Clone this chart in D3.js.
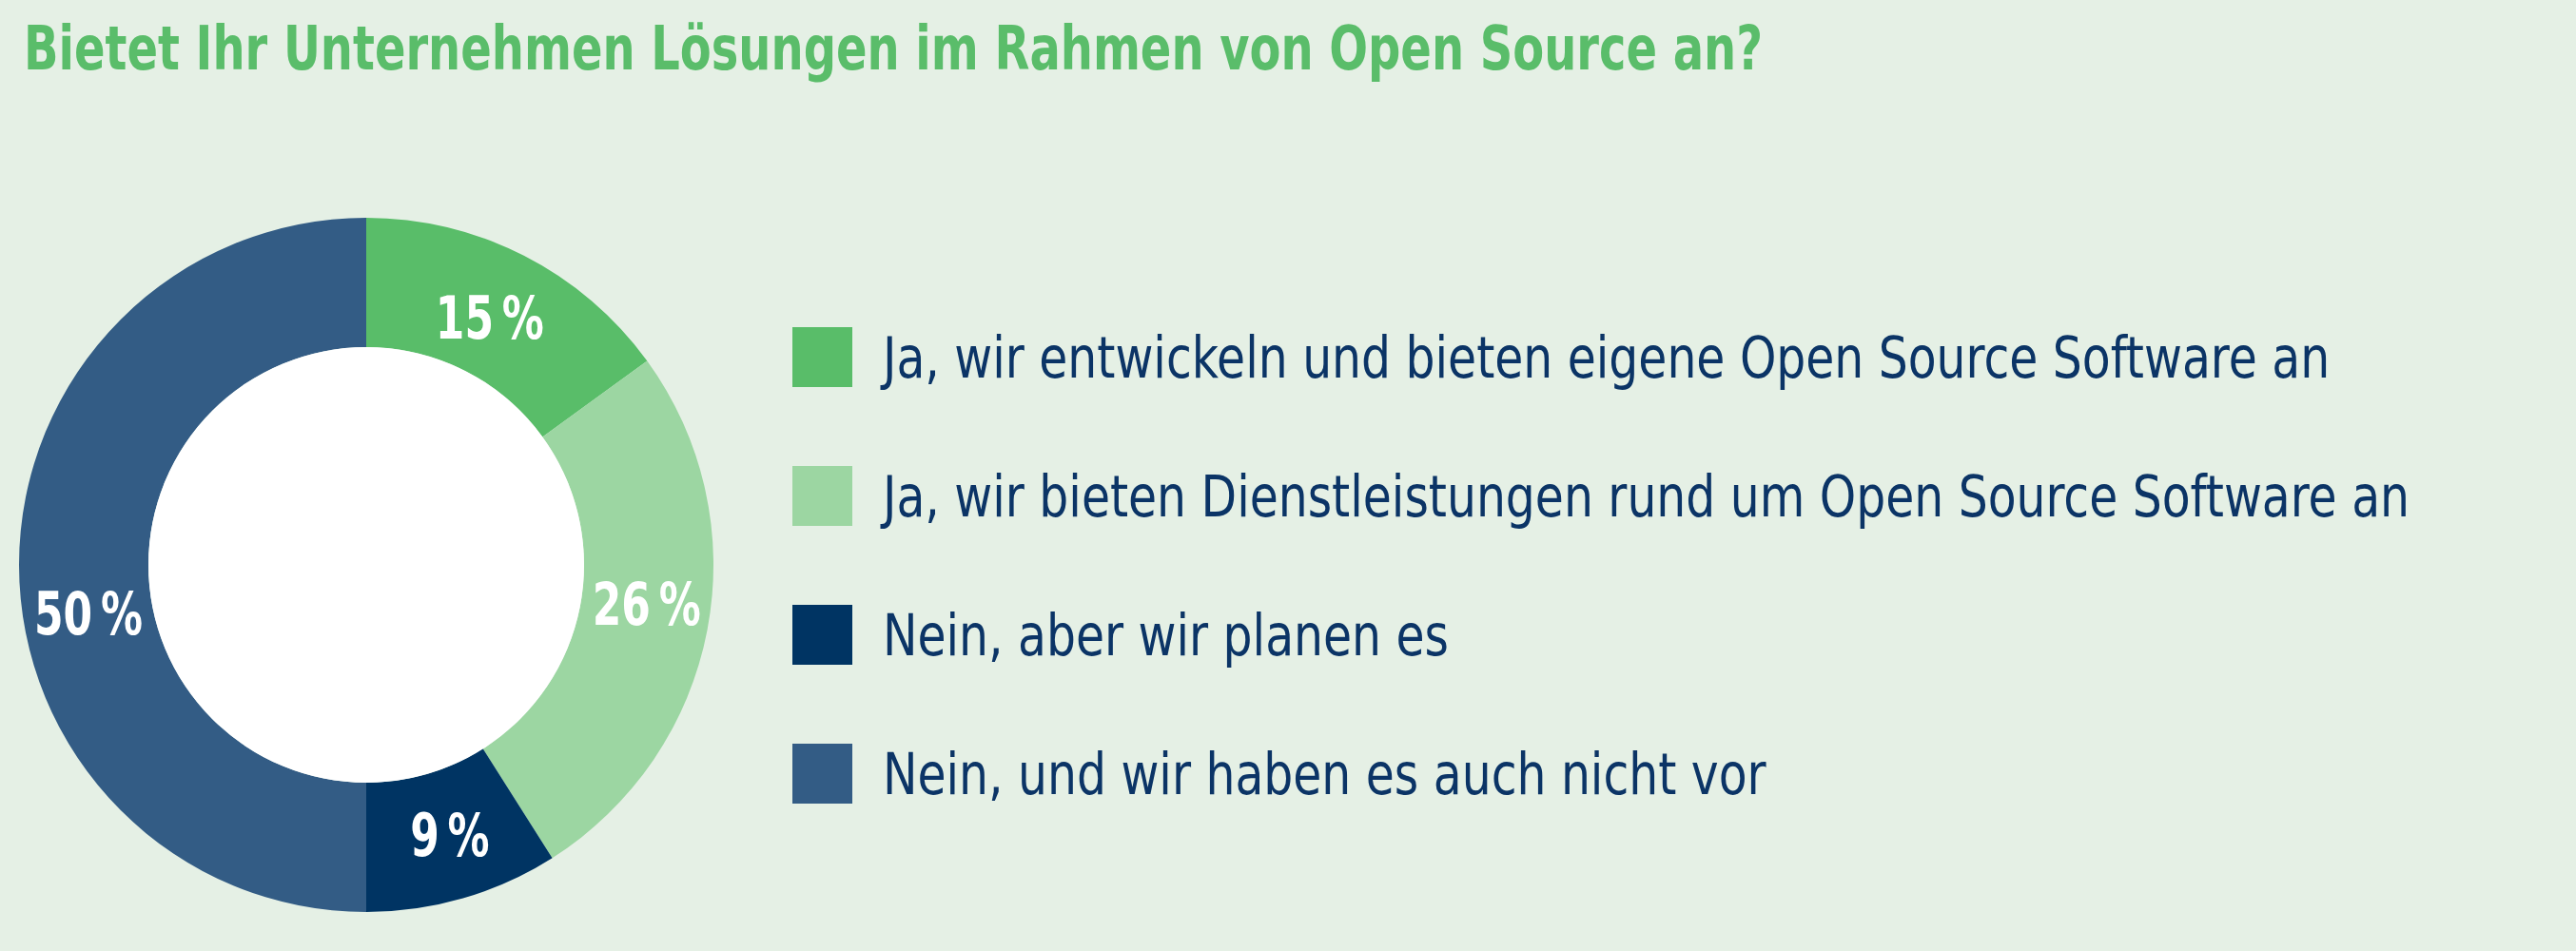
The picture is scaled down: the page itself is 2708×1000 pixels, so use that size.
<!DOCTYPE html>
<html>
<head>
<meta charset="utf-8">
<script src="https://cdn.jsdelivr.net/npm/d3@7"></script>
<style>
  html, body { margin: 0; padding: 0; background: #E5F0E5; }
  svg { display: block; }
</style>
</head>
<body>
<svg id="chart" width="2708" height="1000"></svg>
<script>
// ---- data ----
const title = "Bietet Ihr Unternehmen Lösungen im Rahmen von Open Source an?";
const categories = [
  "Ja, wir entwickeln und bieten eigene Open Source Software an",
  "Ja, wir bieten Dienstleistungen rund um Open Source Software an",
  "Nein, aber wir planen es",
  "Nein, und wir haben es auch nicht vor"
];
const values = [15, 26, 9, 50];
const valueLabels = ["15\u2009%", "26\u2009%", "9\u2009%", "50\u2009%"];
const colors = ["#59BD69", "#9CD6A2", "#003463", "#335C85"];

// ---- layout ----
const W = 2708, H = 1000;
const bg = "#E5F0E5";
const textColor = "#0B3466";
const fontStack = "'Liberation Sans Narrow', 'DejaVu Sans Condensed', 'Roboto', sans-serif";

const svg = d3.select("#chart");
svg.append("rect").attr("width", W).attr("height", H).attr("fill", bg);

// title
const titleEl = svg.append("text")
  .attr("x", 25).attr("y", 73)
  .attr("font-family", fontStack)
  .attr("font-weight", "bold")
  .attr("font-size", 64)
  .attr("fill", "#5ABD6A")
  .text(title);
titleEl.attr("textLength", 1828).attr("lengthAdjust", "spacingAndGlyphs");

// donut
const cx = 385, cy = 594, rOuter = 365, rInner = 229;
const pie = d3.pie().sort(null).value(d => d)(values);
const arc = d3.arc().innerRadius(rInner).outerRadius(rOuter);
const g = svg.append("g").attr("transform", `translate(${cx},${cy})`);
g.selectAll("path.slice").data(pie).join("path")
  .attr("class", "slice")
  .attr("d", arc)
  .attr("fill", (d, i) => colors[i]);
g.append("circle").attr("r", rInner).attr("fill", "#ffffff");

// labels at arc centroids (with small layout nudges as in reference)
const nudge = [[-5, 5], [3, -14], [5, -1], [5, 51]];
const lbl = g.selectAll("text.lbl").data(pie).join("text")
  .attr("class", "lbl")
  .attr("x", (d, i) => arc.centroid(d)[0] + nudge[i][0])
  .attr("y", (d, i) => arc.centroid(d)[1] + nudge[i][1])
  .attr("dy", "0.35em")
  .attr("text-anchor", "middle")
  .attr("font-family", fontStack)
  .attr("font-weight", "bold")
  .attr("font-size", 62)
  .attr("fill", "#ffffff")
  .text((d, i) => valueLabels[i]);
{
  const lens = lbl.nodes().map(n => n.getComputedTextLength());
  const k = 114 / d3.max(lens);
  lbl.each(function (d, i) {
    d3.select(this).attr("textLength", lens[i] * k).attr("lengthAdjust", "spacingAndGlyphs");
  });
}

// legend
const lx = 833, ly0 = 344, step = 146, sw = 63;
const y = d3.scalePoint().domain(d3.range(categories.length)).range([ly0, ly0 + step * (categories.length - 1)]);
const leg = svg.append("g");
const items = leg.selectAll("g.item").data(categories).join("g")
  .attr("class", "item")
  .attr("transform", (d, i) => `translate(${lx},${y(i)})`);
items.append("rect").attr("width", sw).attr("height", sw).attr("fill", (d, i) => colors[i]);
const legText = items.append("text")
  .attr("x", 95).attr("y", sw / 2)
  .attr("dy", "0.35em")
  .attr("font-family", fontStack)
  .attr("font-size", 61)
  .attr("fill", textColor)
  .text(d => d);
// uniform horizontal fit based on the longest legend entry
{
  const lens = legText.nodes().map(n => n.getComputedTextLength());
  const k = 1605 / d3.max(lens);
  legText.each(function (d, i) {
    d3.select(this).attr("textLength", lens[i] * k).attr("lengthAdjust", "spacingAndGlyphs");
  });
}
</script>
</body>
</html>
